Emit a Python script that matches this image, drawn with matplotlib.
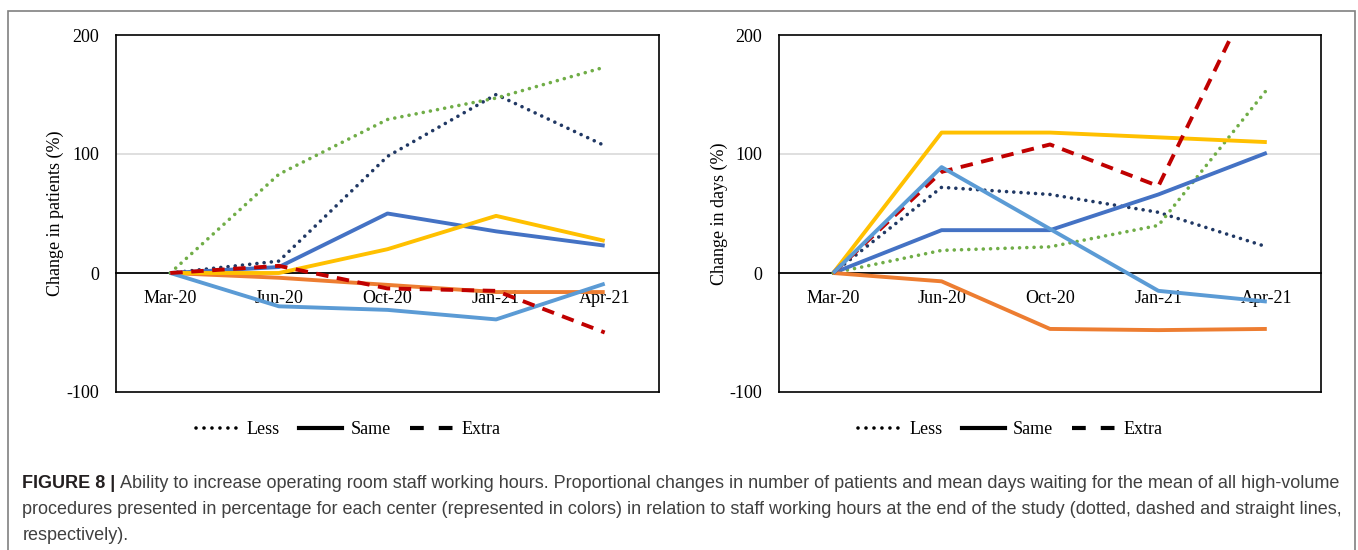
import matplotlib.pyplot as plt
import matplotlib.patches as patches
from matplotlib.lines import Line2D

# categories
months = ['Mar-20', 'Jun-20', 'Oct-20', 'Jan-21', 'Apr-21']

# change in patients (%)
pat_less_navy = [0, 10, 98, 150, 107]
pat_less_green = [0, 83, 129, 147, 173]
pat_same_blue = [0, 5, 50, 35, 23]
pat_same_orange = [0, -4, -10, -16, -16]
pat_same_yellow = [0, 0, 20, 48, 27]
pat_same_lightblue = [0, -28, -31, -39, -9]
pat_extra_red = [0, 6, -13, -15, -50]

# change in days (%)
day_less_navy = [0, 72, 66, 51, 22]
day_less_green = [0, 19, 22, 40, 154]
day_same_blue = [0, 36, 36, 66, 101]
day_same_orange = [0, -7, -47, -48, -47]
day_same_yellow = [0, 118, 118, 114, 110]
day_same_lightblue = [0, 89, 37, -15, -24]
day_extra_red = [0, 85, 108, 73, 260]

legend_labels = ['Less', 'Same', 'Extra']

caption_bold = 'FIGURE 8 |'
caption_lines = [
    ' Ability to increase operating room staff working hours. Proportional changes in number of patients and mean days waiting for the mean of all high-volume',
    'procedures presented in percentage for each center (represented in colors) in relation to staff working hours at the end of the study (dotted, dashed and straight lines,',
    'respectively).',
]

NAVY = '#203864'
GREEN = '#70AD47'
BLUE = '#4472C4'
ORANGE = '#ED7D31'
YELLOW = '#FFC000'
LBLUE = '#5B9BD5'
RED = '#C00000'

DOT = (0, (0.01, 2.0))
DASH = (0, (3.2, 2.2))

plt.rcParams['font.family'] = ['Liberation Serif', 'DejaVu Serif']
plt.rcParams['axes.unicode_minus'] = False

fig = plt.figure(figsize=(13.58, 5.5), dpi=100)
W, H = 1358.0, 550.0


def panel(left_px, right_px, ylabel, series):
    ax = fig.add_axes([left_px / W, (H - 392) / H, (right_px - left_px) / W, (392 - 35) / H])
    x = range(len(months))
    ax.axhline(100, color='#d9d9d9', lw=1.2, zorder=0.5)
    for vals, color, ls in series:
        if ls == DOT:
            ax.plot(x, vals, color=color, lw=2.6, linestyle=ls, dash_capstyle='round', zorder=3)
        else:
            ax.plot(x, vals, color=color, lw=2.8, linestyle=ls, solid_capstyle='butt',
                    dash_capstyle='butt', zorder=3)
    ax.set_xlim(-0.5, 4.5)
    ax.set_ylim(-100, 200)
    ax.set_yticks([-100, 0, 100, 200])
    ax.tick_params(axis='y', length=0, pad=12, labelsize=13)
    ax.set_xticks([])
    for s in ax.spines.values():
        s.set_color('black')
        s.set_linewidth(1.2)
    # category axis crossing at zero
    sec = ax.secondary_xaxis(1.0 / 3.0)
    sec.set_xticks(list(x))
    sec.set_xticklabels(months)
    sec.tick_params(length=0, pad=12, labelsize=13)
    sec.spines['bottom'].set_color('black')
    sec.spines['bottom'].set_linewidth(1.3)
    ax.set_ylabel(ylabel, fontsize=13)
    ax.yaxis.set_label_coords(-0.095, 0.5)

    handles = [Line2D([], [], color='black', lw=2.6, linestyle=(0, (0.01, 2.2)),
                      dash_capstyle='round'),
               Line2D([], [], color='black', lw=3.0),
               Line2D([], [], color='black', lw=3.0, linestyle=(0, (3.3, 3.6)))]
    ax.legend(handles, legend_labels, loc='center', bbox_to_anchor=(0.427, -0.106),
              ncol=3, frameon=False, fontsize=13, handlelength=2.4,
              handletextpad=0.45, columnspacing=1.05)
    return ax


panel(116, 659, 'Change in patients (%)', [
    (pat_less_navy, NAVY, DOT),
    (pat_less_green, GREEN, DOT),
    (pat_same_blue, BLUE, '-'),
    (pat_same_orange, ORANGE, '-'),
    (pat_same_yellow, YELLOW, '-'),
    (pat_same_lightblue, LBLUE, '-'),
    (pat_extra_red, RED, DASH),
])

panel(779, 1321, 'Change in days (%)', [
    (day_less_navy, NAVY, DOT),
    (day_less_green, GREEN, DOT),
    (day_same_blue, BLUE, '-'),
    (day_same_orange, ORANGE, '-'),
    (day_same_yellow, YELLOW, '-'),
    (day_extra_red, RED, DASH),
    (day_same_lightblue, LBLUE, '-'),
])

# outer frame
fig.patches.append(patches.Rectangle((8 / W, -0.1), (1355 - 8) / W, (H - 11) / H + 0.1,
                                     transform=fig.transFigure, fill=False,
                                     edgecolor='#808080', lw=1.2))

# caption
cap_font = ['Liberation Sans', 'DejaVu Sans']
cap_size = 13.0
x0 = 22.5 / W
ys = [1 - 484 / H, 1 - 510 / H, 1 - 535 / H]
tb = fig.text(x0, ys[0], caption_bold, family=cap_font, fontsize=cap_size, weight='bold',
              color='#231F20', va='center')
r = fig.canvas.get_renderer()
bb = tb.get_window_extent(renderer=r)
fig.text(bb.x1 / W, ys[0], caption_lines[0], family=cap_font, fontsize=cap_size,
         color='#404040', va='center')
for line, y in zip(caption_lines[1:], ys[1:]):
    fig.text(x0, y, line, family=cap_font, fontsize=cap_size, color='#404040', va='center')

fig.savefig('out.png', dpi=100)
